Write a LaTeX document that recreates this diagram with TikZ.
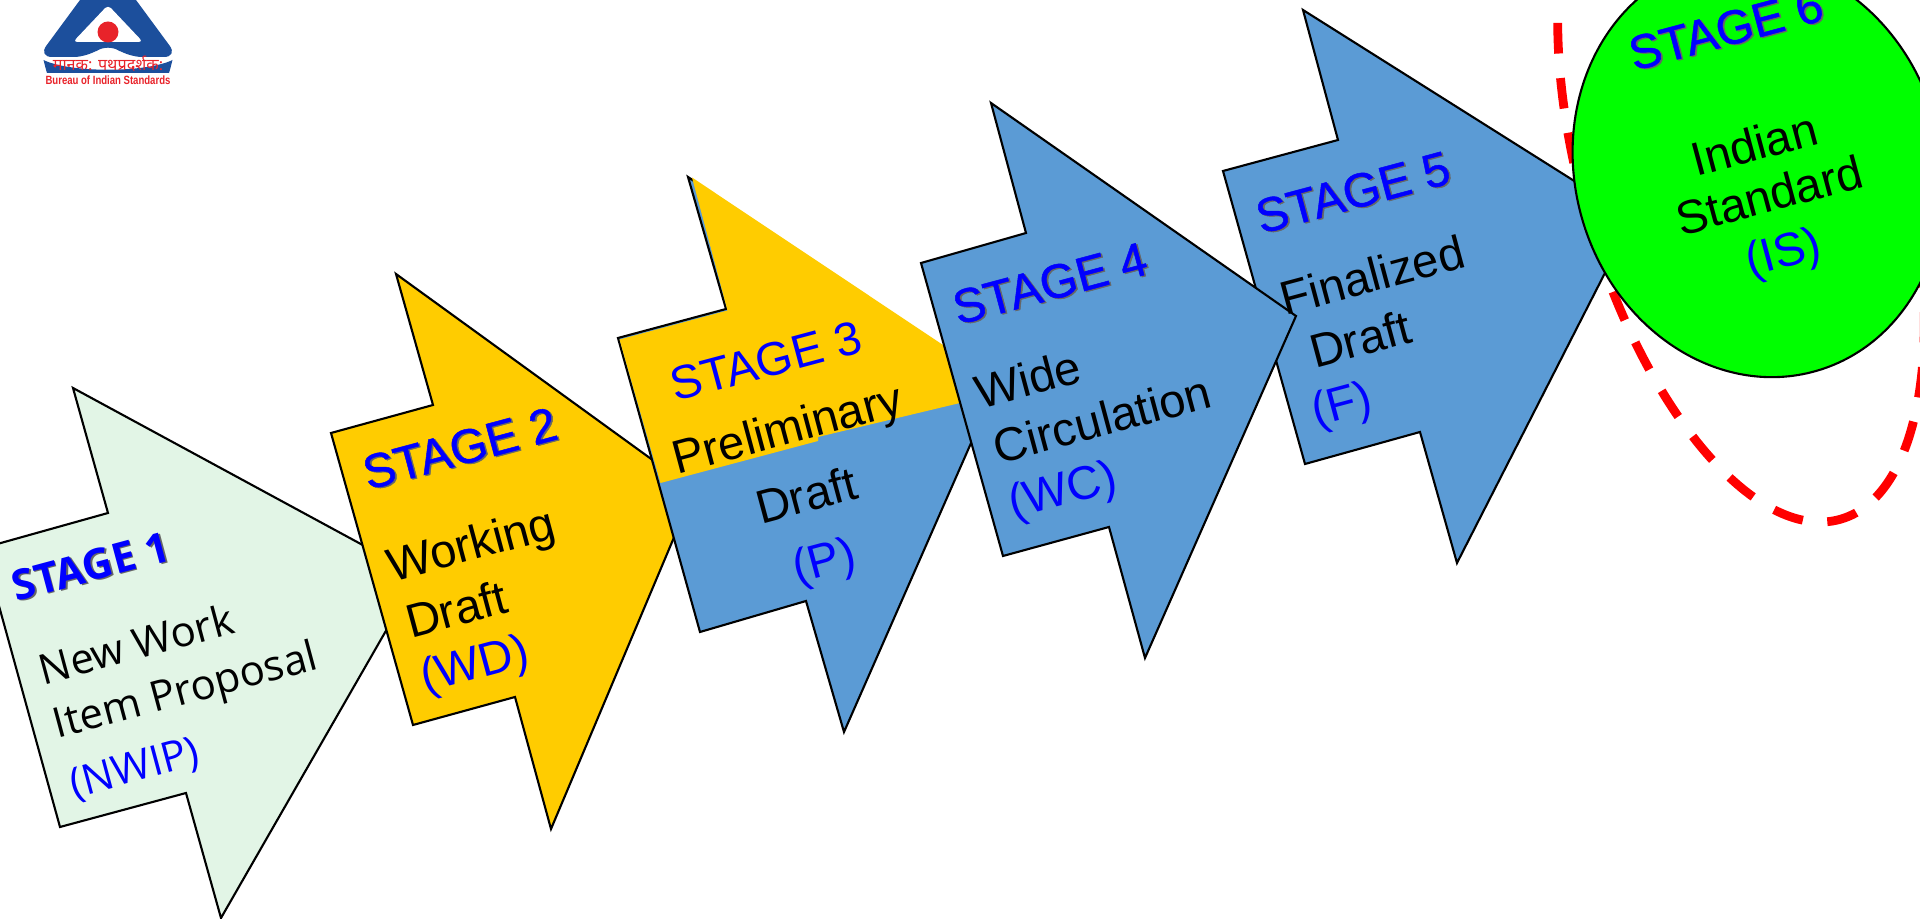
\documentclass[tikz,border=0pt]{standalone}
\usepackage{fontspec}
\setmainfont{Liberation Sans}
\newfontfamily\opensans{Open Sans}
\newfontfamily\titlefont[FakeBold=1]{Liberation Sans}
\newfontfamily\devafont[Script=Devanagari]{Noto Sans}
\usetikzlibrary{shapes.geometric}
\definecolor{stagegreen}{HTML}{E2F5E6}
\definecolor{stageyellow}{HTML}{FFCC00}
\definecolor{stageblue}{HTML}{5B9BD5}
\definecolor{logoblue}{HTML}{1C4F9C}
\definecolor{logored}{HTML}{E8232A}
\newcommand{\shadowed}[1]{\makebox[0pt][l]{\hspace*{0.4pt}\raisebox{-0.4pt}{\color{black!60}#1}}#1}
\tikzset{
	stagearrow/.style={draw=black,line width=0.6pt,miter limit=20},
	stagetext/.style={rotate=15,inner sep=0pt,font=\fontsize{13.4}{15}\selectfont},
	stagetitle/.style={stagetext,text=blue,font=\titlefont\fontsize{13.6}{15}\selectfont},
	stagecode/.style={stagetext,text=blue},
	firsttext/.style={rotate=15,inner sep=0pt,font=\opensans\fontsize{11.9}{13}\selectfont},
}

\begin{document}
\begin{tikzpicture}[x=0.01cm,y=-0.01cm]
	\useasboundingbox (0,0) rectangle (1920,919);
	\clip (0,0) rectangle (1920,919);
	%Logo
	\fill[logoblue,rounded corners=4pt] (108,-38)--(38,57)--(88,57)--(108,43)--(128,57)--(178,57)--cycle;
	\fill[white,rounded corners=1.2pt] (108,5)--(73,42)--(143,42)--cycle;
	\fill[logoblue] (43.5,60) .. controls (70,73) and (146,73) .. (172.5,60) .. controls (171,66) and (170,70) .. (169,73)--(47,73) .. controls (46,70) and (45,66) .. (43.5,60)--cycle;
	\fill[logored] (108,32) circle (10.5);
	\node (logohindi) at (108,63.5) [inner sep=0pt,text=logored,font=\devafont\fontsize{4.6}{6}\selectfont] {मानक: पथप्रदर्शक:};
	\node (logoname) at (108,80) [inner sep=0pt,text=logored,xscale=0.8,transform shape,font=\fontsize{3.4}{4}\selectfont\bfseries] {Bureau of Indian Standards};
	%Red ring
	\node (ring) at (1741,172) [ellipse,inner sep=0pt,draw=red,line width=2.5pt,dash pattern=on 8.7pt off 7pt,dash phase=2.5pt,minimum width=3.2cm,minimum height=7.22cm,rotate=16] {};
	%Stage 1
	\draw[stagearrow,fill=stagegreen] (73,388)--(108,513)--(-17,548)--(60,827)--(186,793)--(221,918)--(418,575)--cycle;
	%Stage 2
	\draw[stagearrow,fill=stageyellow] (396,274)--(433,405)--(331,433)--(413,725)--(515,697)--(551,829)--(694,490)--cycle;
	%Stage 3
	\draw[stagearrow,fill=stageblue] (688,177)--(726,309)--(618,338)--(700,632)--(806,601)--(844,732)--(997,384)--cycle;
	\fill[stageyellow] (692,177.5)--(1000,383)--(960,403)--(818,437)--(818,441)--(660.5,483)--(619.5,339.5)--(727.5,310.5)--cycle;
	%Stage 5
	\draw[stagearrow,fill=stageblue] (1303,10)--(1338,140)--(1223,171)--(1305,464)--(1420,432)--(1457,563)--(1633,218)--cycle;
	%Stage 4
	\draw[stagearrow,fill=stageblue] (991,103)--(1026,233)--(921,263)--(1003,556)--(1109,527)--(1145,658)--(1296,316)--cycle;
	%Stage 6
	\node (circlesix) at (1758,168) [ellipse,inner sep=0pt,draw=black,line width=0.6pt,fill=green,minimum width=3.66cm,minimum height=4.22cm,rotate=16] {};
	%Text 1
	\node (titleone) at (91,567) [firsttext,text=blue,font=\opensans\fontsize{11.9}{13}\selectfont\bfseries] {\shadowed{STAGE 1}};
	\node (nameonea) at (136,644) [firsttext] {New Work};
	\node (nameoneb) at (186,693) [firsttext] {Item Proposal};
	\node (codeone) at (135,770) [firsttext,text=blue] {(NWIP)};
	%Text 2
	\node (titletwo) at (460,449) [stagetitle] {\shadowed{STAGE 2}};
	\node (nametwoa) at (472,548) [stagetext] {Working};
	\node (nametwob) at (456,609) [stagetext] {Draft};
	\node (codetwo) at (475,667) [stagecode] {(WD)};
	%Text 3
	\node (titlethree) at (766,361) [stagecode] {STAGE 3};
	\node (namethreea) at (788,432) [stagetext] {Preliminary};
	\node (namethreeb) at (806,495) [stagetext] {Draft};
	\node (codethree) at (825,564) [stagecode] {(P)};
	%Text 4
	\node (titlefour) at (1050,284) [stagetitle] {\shadowed{STAGE 4}};
	\node (namefoura) at (1028,379) [stagetext] {Wide};
	\node (namefourb) at (1102,419) [stagetext] {Circulation};
	\node (codefour) at (1063,493) [stagecode] {(WC)};
	%Text 5
	\node (titlefive) at (1353,193) [stagetitle] {\shadowed{STAGE 5}};
	\node (namefivea) at (1372,275) [stagetext] {Finalized};
	\node (namefiveb) at (1360,339) [stagetext] {Draft};
	\node (codefive) at (1342,407) [stagecode] {(F)};
	%Text 6
	\node (titlesix) at (1726,30) [stagetitle] {\shadowed{STAGE 6}};
	\node (namesixa) at (1754,144) [stagetext] {Indian};
	\node (namesixb) at (1769,195) [stagetext] {Standard};
	\node (codesix) at (1784,255) [stagecode] {(IS)};
\end{tikzpicture}
\end{document}
